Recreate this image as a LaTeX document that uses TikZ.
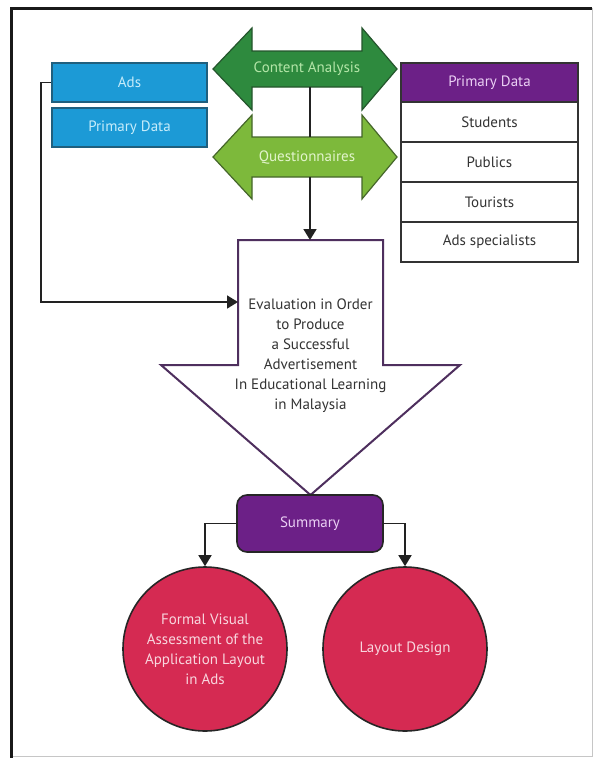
\documentclass[tikz,border=0pt]{standalone}
\usepackage{fontspec}
\setmainfont{PT Sans}
\usetikzlibrary{arrows.meta}
\definecolor{adblue}{HTML}{1C9AD6}
\definecolor{adborder}{HTML}{1F5F7E}
\definecolor{adtext}{HTML}{C6ECFA}
\definecolor{dkgreen}{HTML}{2E8A3E}
\definecolor{dkgreenline}{HTML}{24552C}
\definecolor{dkgreentext}{HTML}{B4E6A8}
\definecolor{ltgreen}{HTML}{7DB93B}
\definecolor{ltgreenline}{HTML}{45662A}
\definecolor{ltgreentext}{HTML}{E2F4CC}
\definecolor{purp}{HTML}{6C2087}
\definecolor{purptext}{HTML}{EACFF4}
\definecolor{evalline}{HTML}{4E2F5E}
\definecolor{circred}{HTML}{D52A52}
\definecolor{circtext}{HTML}{F8D6DE}
\definecolor{conncol}{HTML}{222222}
\definecolor{listtext}{HTML}{333333}
\tikzset{
  txt/.style={font=\fontsize{15}{20}\selectfont, align=center, inner sep=0pt},
  bluebox/.style={txt, draw=adborder, line width=1.6pt, fill=adblue, text=adtext,
    minimum width=155pt, minimum height=39pt},
  headbox/.style={txt, draw=black!80, line width=1.6pt, fill=purp, text=purptext,
    minimum width=177pt, minimum height=39pt},
  rowbox/.style={txt, draw=black!80, line width=1.6pt, fill=white, text=listtext,
    minimum width=177pt, minimum height=40pt},
  sumbox/.style={txt, draw=black!85, line width=1.6pt, fill=purp, text=purptext,
    rounded corners=10pt, minimum width=146pt, minimum height=57pt},
  circ/.style={txt, circle, draw=black!85, line width=1.6pt, fill=circred, text=circtext,
    minimum size=164pt},
  conn/.style={draw=conncol, line width=1.7pt},
  connarrow/.style={conn, -{Triangle[width=13pt,length=11pt]}},
}
\begin{document}
\begin{tikzpicture}[x=1pt,y=-1pt]
\useasboundingbox (0,0) rectangle (595,758);
\fill[white] (0,0) rectangle (595,758);
% frame
\draw[gray!45, line width=1pt] (592,8) -- (592,756) -- (11,756);
\draw[black!90, line width=3pt] (11.5,758) -- (11.5,8) -- (592,8);

% green double arrows
\draw[fill=dkgreen, draw=dkgreenline, line width=1.2pt]
  (213,69) -- (252,28) -- (252,51) -- (362,51) -- (362,28) -- (397,69)
  -- (362,110) -- (362,87) -- (252,87) -- (252,110) -- cycle;
\node[txt, text=dkgreentext] (ca) at (307,69) {Content Analysis};
\draw[fill=ltgreen, draw=ltgreenline, line width=1.2pt]
  (213,157) -- (252,115) -- (252,137) -- (362,137) -- (362,115) -- (397,157)
  -- (362,199) -- (362,177) -- (252,177) -- (252,199) -- cycle;
\node[txt, text=ltgreentext] (qu) at (307,158) {Questionnaires};
\coordinate (caB) at (310,87);
\coordinate (quT) at (310,137);
\coordinate (quB) at (310,177);

% left blue boxes
\node[bluebox] (ads) at (129.5,82.5) {Ads};
\node[bluebox] (pdl) at (129.5,127.5) {Primary Data};

% right list
\node[headbox] (pdr) at (489.5,82.5) {Primary Data};
\node[rowbox] (stu) at (489.5,122) {Students};
\node[rowbox] (pub) at (489.5,162) {Publics};
\node[rowbox] (tou) at (489.5,202) {Tourists};
\node[rowbox] (spe) at (489.5,242) {Ads specialists};

% evaluation arrow
\draw[fill=white, draw=evalline, line width=2pt]
  (238,240) -- (383,240) -- (383,365) -- (460,365) -- (310.5,495)
  -- (161,365) -- (238,365) -- cycle;
\node[txt, text=listtext] (ev) at (310.5,356)
  {Evaluation in Order\\to Produce\\a Successful\\Advertisement\\In Educational Learning\\in Malaysia};
\coordinate (evT) at (310,240);
\coordinate (evL) at (238,302);

% summary and circles
\node[sumbox] (sum) at (310,523.5) {Summary};
\node[circ] (c1) at (205,649) {Formal Visual\\Assessment of the\\Application Layout\\in Ads};
\node[circ] (c2) at (405,649) {Layout Design};

% connectors
\draw[conn] (caB) -- (quT);
\draw[connarrow] (quB) -- (evT);
\draw[connarrow] (ads.west) -- ++(-10,0) |- (evL);
\draw[connarrow] (sum.west) -| (c1.north);
\draw[connarrow] (sum.east) -| (c2.north);
\end{tikzpicture}
\end{document}
